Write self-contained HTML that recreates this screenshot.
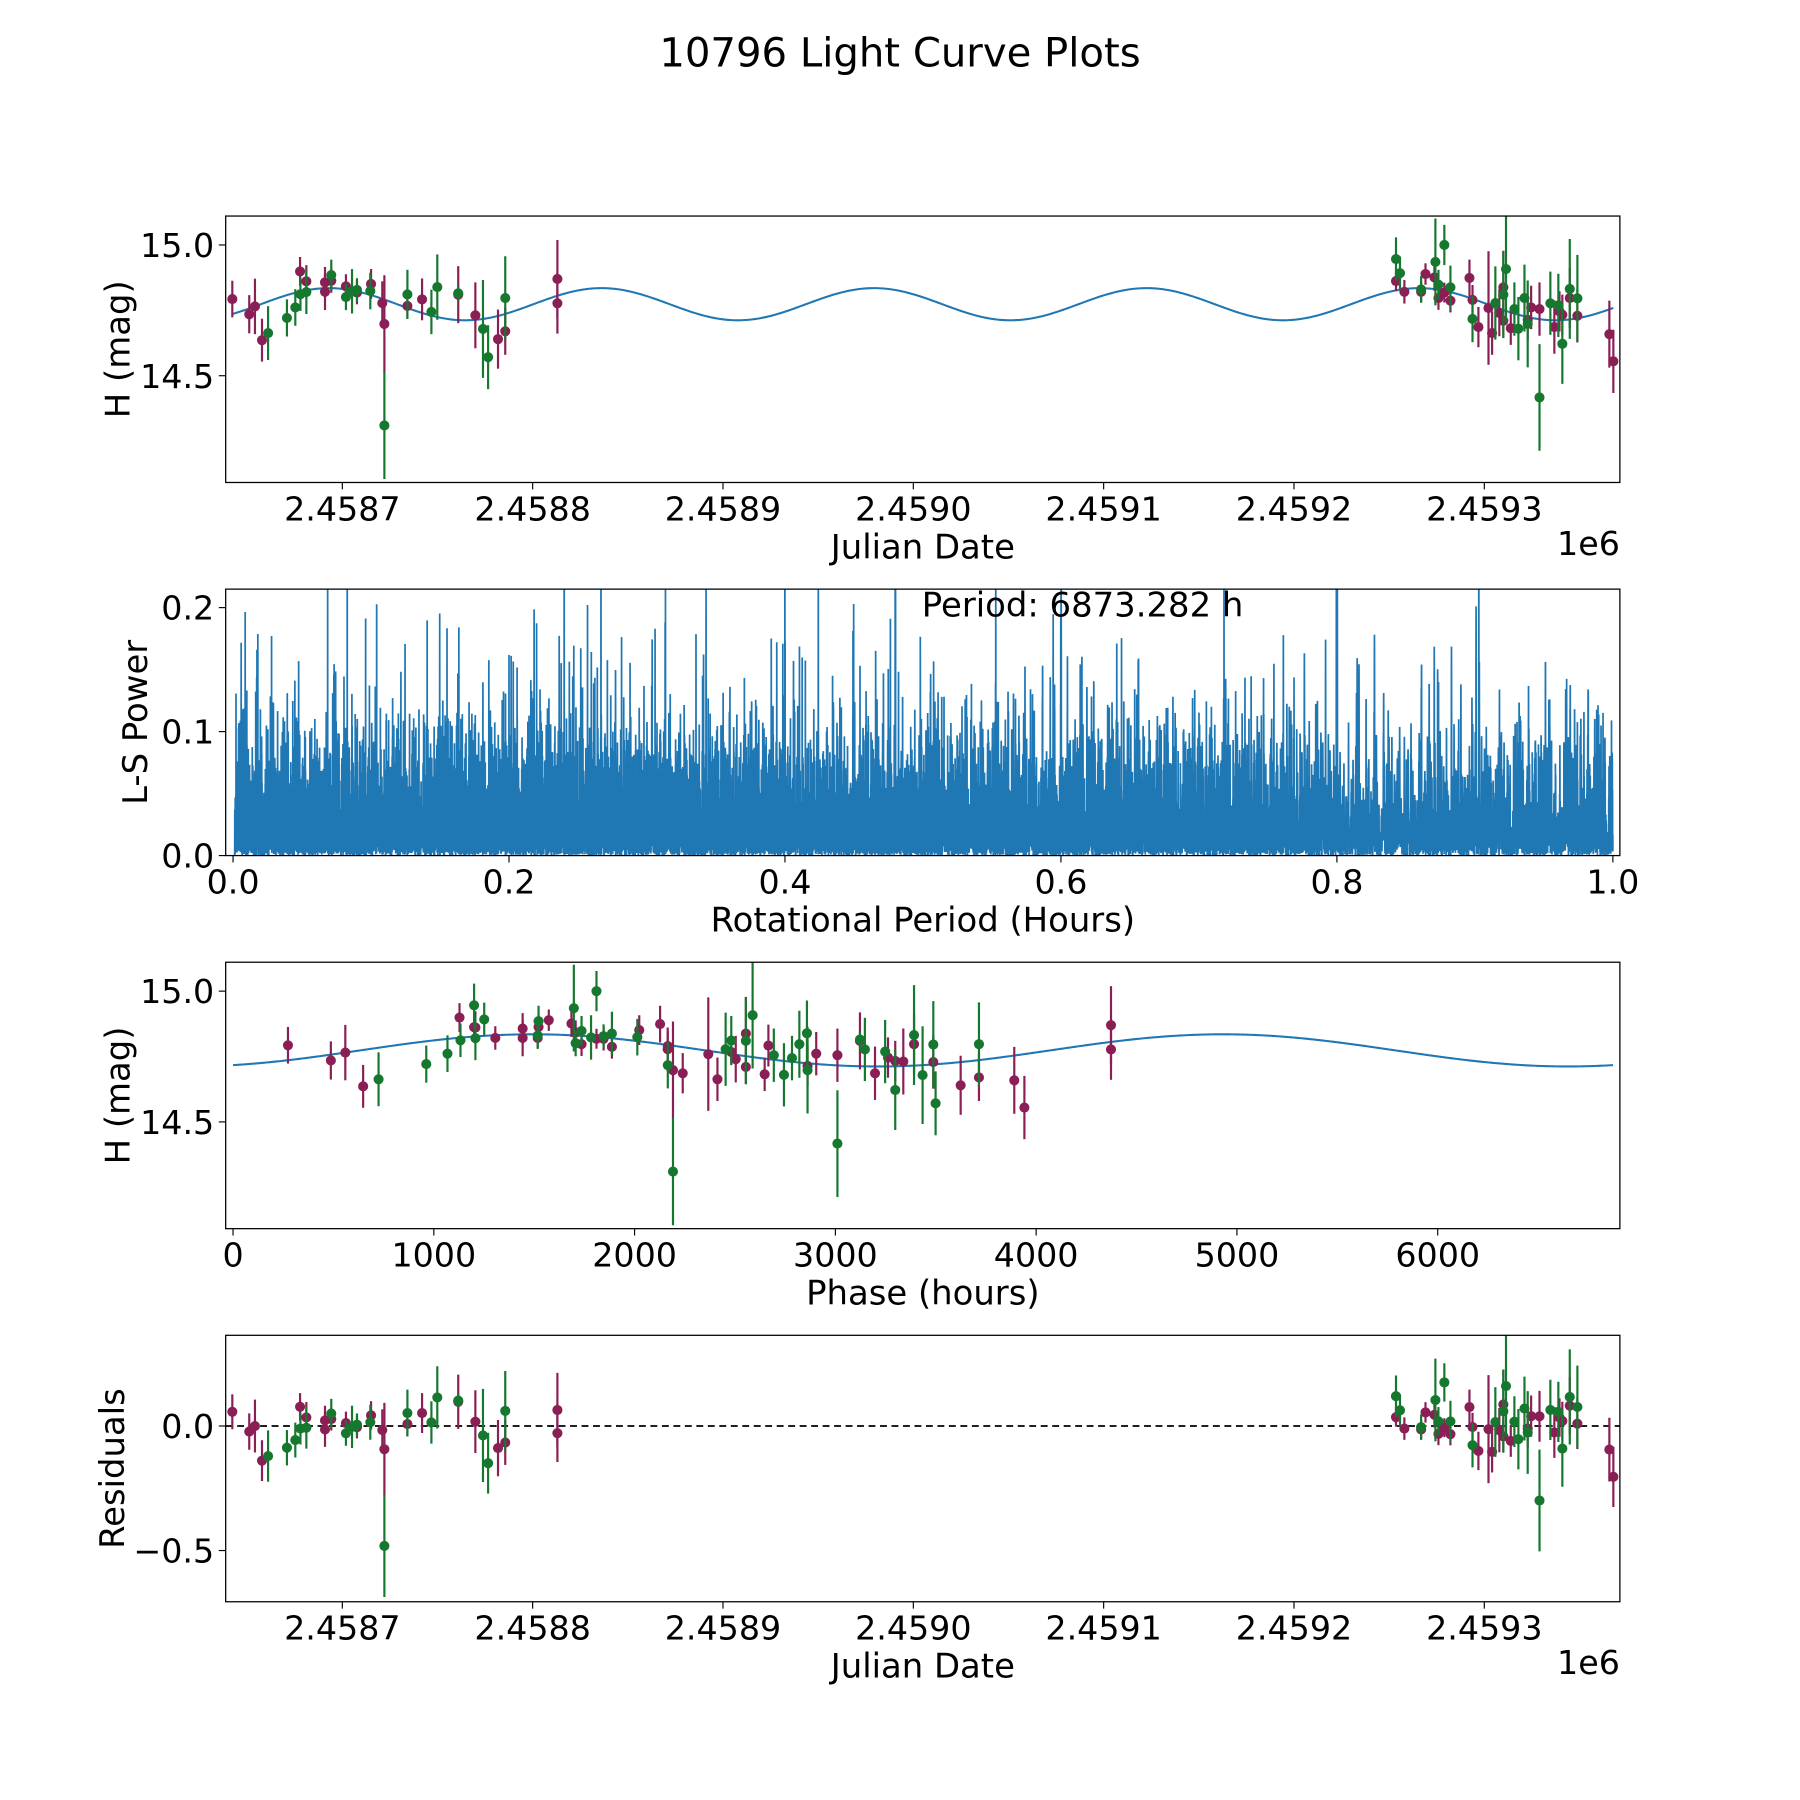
<!DOCTYPE html>
<html><head><meta charset="utf-8"><title>10796 Light Curve Plots</title>
<style>html,body{margin:0;padding:0;background:#fff}svg{display:block}text{font-family:"DejaVu Sans","Liberation Sans",sans-serif;fill:#000}</style>
</head><body>
<svg id="fig" xmlns="http://www.w3.org/2000/svg" width="1800" height="1800" viewBox="0 0 1568 1568">
<rect x="0" y="0" width="1568" height="1568" fill="#fff"/>
<text x="784" y="58" font-size="35" text-anchor="middle">10796 Light Curve Plots</text>
</svg>
<script>
// ---- data ----
const jd = [2458642.2,2458651.1,2458654.1,2458657.8,2458661.0,2458670.9,2458675.3,2458677.8,2458678.0,2458681.1,2458681.1,2458690.9,2458690.9,2458694.2,2458694.2,2458701.9,2458701.9,2458705.1,2458707.7,2458707.7,2458715.1,2458714.7,2458721.0,2458722.1,2458722.1,2458734.2,2458734.2,2458741.9,2458746.8,2458749.9,2458760.9,2458760.9,2458769.9,2458773.9,2458776.6,2458781.8,2458785.6,2458785.6,2458813.0,2458813.0,
2459253.6,2459253.6,2459255.7,2459258.0,2459266.8,2459266.8,2459269.1,2459273.8,2459274.3,2459275.9,2459275.9,2459279.0,2459279.0,2459282.2,2459282.2,2459292.2,2459293.8,2459293.8,2459296.9,2459302.2,2459304.1,2459305.8,2459307.9,2459310.0,2459310.0,2459311.4,2459310.0,2459313.9,2459315.8,2459317.9,2459321.1,2459322.8,2459322.8,2459324.6,2459329.0,2459329.0,2459334.7,2459336.8,2459338.9,2459339.5,2459341.0,2459341.0,2459344.9,2459344.9,2459348.9,2459348.9,2459365.7,2459367.8];
const mag = [14.793,14.735,14.765,14.636,14.663,14.721,14.761,14.899,14.812,14.861,14.820,14.821,14.857,14.863,14.885,14.842,14.801,14.823,14.818,14.828,14.851,14.824,14.778,14.698,14.310,14.811,14.767,14.792,14.744,14.839,14.810,14.815,14.731,14.679,14.571,14.640,14.670,14.797,14.870,14.777,
14.946,14.862,14.892,14.821,14.821,14.830,14.889,14.876,14.935,14.848,14.797,15.000,14.818,14.838,14.787,14.874,14.790,14.717,14.686,14.759,14.663,14.778,14.740,14.838,14.810,14.908,14.710,14.682,14.755,14.680,14.797,14.714,14.698,14.761,14.755,14.417,14.777,14.686,14.769,14.746,14.622,14.733,14.832,14.797,14.796,14.729,14.659,14.555];
const magErr = [0.070,0.073,0.106,0.082,0.103,0.071,0.070,0.055,0.064,0.062,0.084,0.070,0.059,0.046,0.059,0.046,0.050,0.085,0.045,0.045,0.057,0.070,0.083,0.186,0.205,0.094,0.048,0.080,0.085,0.125,0.109,0.030,0.126,0.187,0.122,0.113,0.090,0.160,0.149,0.116,
0.083,0.038,0.064,0.045,0.038,0.051,0.041,0.051,0.166,0.057,0.045,0.077,0.038,0.083,0.045,0.070,0.057,0.089,0.077,0.217,0.083,0.140,0.089,0.140,0.166,0.204,0.064,0.064,0.102,0.121,0.128,0.077,0.166,0.083,0.102,0.204,0.121,0.102,0.121,0.077,0.153,0.077,0.191,0.115,0.166,0.102,0.128,0.121];
const band = ["M","M","M","M","G","G","G","M","G","M","G","M","M","M","G","M","G","G","M","G","M","G","M","M","G","G","M","M","G","G","M","G","M","G","G","M","M","G","M","M",
"G","M","G","M","M","G","M","M","G","G","M","G","M","G","M","M","M","G","M","M","M","G","M","M","G","G","M","M","G","G","G","M","G","M","M","G","G","M","G","M","G","M","G","M","G","M","M","M"];
const xTickJD = [2458700,2458800,2458900,2459000,2459100,2459200,2459300];
const xTickJDLabels = ["2.4587","2.4588","2.4589","2.4590","2.4591","2.4592","2.4593"];
const yTickMag = [15.0,14.5];
const yTickMagLabels = ["15.0","14.5"];
const xTickPeriod = [0,0.2,0.4,0.6,0.8,1.0];
const xTickPeriodLabels = ["0.0","0.2","0.4","0.6","0.8","1.0"];
const yTickPower = [0,0.1,0.2];
const yTickPowerLabels = ["0.0","0.1","0.2"];
const xTickPhase = [0,1000,2000,3000,4000,5000,6000];
const xTickPhaseLabels = ["0","1000","2000","3000","4000","5000","6000"];
const yTickRes = [0,-0.5];
const yTickResLabels = ["0.0","\u22120.5"];
const bestPeriodHours = 6873.282;
const modelMean = [14.7735];
const modelAmp = [0.0615];
const modelPeakJD = [2458693.0];
const phaseZeroJD = [2458630.8];

// ---- layout ----
const NS="http://www.w3.org/2000/svg";
const svg=document.getElementById('fig');
const L=196.6,R=1411.1,H=232.1;
const tops=[188.2,513.2,838.2,1163.2];
const COL={M:"#8a1f55",G:"#16782f"};
const BLUE="#1f77b4";
const TF=29, LF=29.5;
function el(tag,attrs,parent){const e=document.createElementNS(NS,tag);for(const k in attrs)e.setAttribute(k,attrs[k]);(parent||svg).appendChild(e);return e;}

const xJD=t=>298.2+(t-2458700)*1.658;
const yMag1=m=>tops[0]+25.2+(15.0-m)*227.8;
const yMag3=m=>tops[2]+25.2+(15.0-m)*227.8;
const xPer=p=>203+p*1202;
const yPow=v=>tops[1]+H-v*1080;
const xPh=p=>203+p*0.1749;
const yRes=r=>tops[3]+79+(0-r)*217;

const halfP=bestPeriodHours/24/2;
function model(t){return modelMean[0]+modelAmp[0]*Math.cos(2*Math.PI*(t-modelPeakJD[0])/halfP);}

const defs=el('defs',{});
tops.forEach((t,i)=>{const c=el('clipPath',{id:'clip'+i},defs);el('rect',{x:L,y:t,width:R-L,height:H},c);});

function frame(i,name){
  const g=el('g',{});
  
  
  return g;
}
function drawAxes(g,i,xt,xl,xf,yt,yl,yf,xname){
  const t=tops[i],b=t+H;
  xt.forEach((v,k)=>{const x=xf(v);el('line',{x1:x,y1:b,x2:x,y2:b+6,stroke:'#000','stroke-width':1},g);
    const tx=el('text',{x:x,y:b+33,'font-size':TF,'text-anchor':'middle'},g);tx.textContent=xl[k];
    
    });
  yt.forEach((v,k)=>{const y=yf(v);el('line',{x1:L-6,y1:y,x2:L,y2:y,stroke:'#000','stroke-width':1},g);
    const tx=el('text',{x:L-10,y:y+10.5,'font-size':TF,'text-anchor':'end'},g);tx.textContent=yl[k];
    
    });
}
function spine(g,i){el('rect',{x:L,y:tops[i],width:R-L,height:H,fill:'none',stroke:'#000','stroke-width':1.1},g);}
function label(g,txt,x,y,rot,name){const a={x:x,y:y,'font-size':LF,'text-anchor':'middle'};if(rot)a.transform='rotate(-90 '+x+' '+y+')';const t=el('text',a,g);t.textContent=txt;
  
  }
function errPoints(g,i,xs,ys,es,yf,name){
  const cg=el('g',{'clip-path':'url(#clip'+i+')'},g);
  ["M","G"].forEach(bd=>{for(let k=0;k<xs.length;k++){if(band[k]!==bd)continue;
    const x=xs[k];const y1=yf(ys[k]-es[k]),y2=yf(ys[k]+es[k]);
    el('line',{x1:x,y1:y1,x2:x,y2:y2,stroke:COL[bd],'stroke-width':1.9},cg);
    const c=el('circle',{cx:x,cy:yf(ys[k]),r:4.4,fill:COL[bd]},cg);
    
    }});
}
function curvePath(xs,ys){return xs.map((x,k)=>(k?'L':'M')+x.toFixed(2)+' '+ys[k].toFixed(2)).join(' ');}

const tmin=Math.min(...jd),tmax=Math.max(...jd);
// ---- panel 1 ----
{const g=frame(0,'light-curve-panel');
 const ts=[],ms=[];for(let k=0;k<=600;k++){const t=tmin+(tmax-tmin)*k/600;ts.push(xJD(t));ms.push(yMag1(model(t)));}
 const p=el('path',{d:curvePath(ts,ms),fill:'none',stroke:BLUE,'stroke-width':1.8,'clip-path':'url(#clip0)'},g);
 
 
 errPoints(g,0,jd.map(xJD),mag,magErr,yMag1,'magnitude');
 drawAxes(g,0,xTickJD,xTickJDLabels,xJD,yTickMag,yTickMagLabels,yMag1,'x');
 spine(g,0);
 label(g,'Julian Date',803.9,tops[0]+H+66,false,'x-axis-title');
 const o=el('text',{x:R,y:tops[0]+H+63,'font-size':TF,'text-anchor':'end'},g);o.textContent='1e6';
 
 
 label(g,'H (mag)',113,tops[0]+H/2,true,'y-axis-title');
}
// ---- panel 2: Lomb-Scargle ----
{const g=frame(1,'periodogram-panel');
 const t0=tmin;const th=jd.map(t=>(t-t0)*24);const w=magErr.map(e=>1/(e*e));
 let W=0,Sy=0,Syy=0;for(let k=0;k<th.length;k++){W+=w[k];Sy+=w[k]*mag[k];Syy+=w[k]*mag[k]*mag[k];}
 const chiRef=Syy-Sy*Sy/W;
 const N=20000,pmin=0.0012,pmax=1.0;const xs=[],ys=[];
 const det=m=>m[0][0]*(m[1][1]*m[2][2]-m[1][2]*m[2][1])-m[0][1]*(m[1][0]*m[2][2]-m[1][2]*m[2][0])+m[0][2]*(m[1][0]*m[2][1]-m[1][1]*m[2][0]);
 for(let i=0;i<N;i++){const per=pmin+(pmax-pmin)*i/(N-1);const om=2*Math.PI/per;
  let Scc=0,Sss=0,Scs=0,Sc=0,Ss=0,Syc=0,Sys=0;
  for(let k=0;k<th.length;k++){const ph=om*th[k];const c=Math.cos(ph),s=Math.sin(ph),ww=w[k];
   Scc+=ww*c*c;Sss+=ww*s*s;Scs+=ww*c*s;Sc+=ww*c;Ss+=ww*s;Syc+=ww*mag[k]*c;Sys+=ww*mag[k]*s;}
  const A=[[Scc,Scs,Sc],[Scs,Sss,Ss],[Sc,Ss,W]],b=[Syc,Sys,Sy];
  const D=det(A);let pw=0;
  if(Math.abs(D)>1e-12){let pb=0;for(let c=0;c<3;c++){const M=A.map((r,ri)=>r.map((v,ci)=>ci===c?b[ri]:v));pb+=det(M)/D*b[c];}
   pw=(pb-Sy*Sy/W)/chiRef;}
  pw=Math.max(0,Math.min(pw,0.3));
  xs.push(xPer(per));ys.push(yPow(pw));}
 const p=el('path',{d:curvePath(xs,ys),fill:'none',stroke:BLUE,'stroke-width':1.5,'clip-path':'url(#clip1)'},g);
 
 
 drawAxes(g,1,xTickPeriod,xTickPeriodLabels,xPer,yTickPower,yTickPowerLabels,yPow,'period');
 spine(g,1);
 const pt=el('text',{x:803,y:537,'font-size':LF,'text-anchor':'start'},g);pt.textContent='Period: '+bestPeriodHours.toFixed(3)+' h';
 
 
 label(g,'Rotational Period (Hours)',803.9,tops[1]+H+66,false,'x-axis-title');
 label(g,'L-S Power',128,tops[1]+H/2,true,'y-axis-title');
}
// ---- panel 3: phase ----
{const g=frame(2,'phase-panel');
 const ps=[],ms=[];for(let k=0;k<=600;k++){const p=bestPeriodHours*k/600;ps.push(xPh(p));ms.push(yMag3(model(phaseZeroJD[0]+p/24)));}
 const c=el('path',{d:curvePath(ps,ms),fill:'none',stroke:BLUE,'stroke-width':1.8,'clip-path':'url(#clip2)'},g);
 
 
 const phase=jd.map(t=>{let p=((t-phaseZeroJD[0])*24)%bestPeriodHours;if(p<0)p+=bestPeriodHours;return p;});
 errPoints(g,2,phase.map(xPh),mag,magErr,yMag3,'phased');
 drawAxes(g,2,xTickPhase,xTickPhaseLabels,xPh,yTickMag,yTickMagLabels,yMag3,'phase');
 spine(g,2);
 label(g,'Phase (hours)',803.9,tops[2]+H+66,false,'x-axis-title');
 label(g,'H (mag)',113,tops[2]+H/2,true,'y-axis-title');
}
// ---- panel 4: residuals ----
{const g=frame(3,'residuals-panel');
 const zl=el('line',{x1:L,y1:yRes(0),x2:R,y2:yRes(0),stroke:'#000','stroke-width':1.5,'stroke-dasharray':'6 4'},g);
 
 
 const res=jd.map((t,k)=>mag[k]-model(t));
 errPoints(g,3,jd.map(xJD),res,magErr,yRes,'residual');
 drawAxes(g,3,xTickJD,xTickJDLabels,xJD,yTickRes,yTickResLabels,yRes,'x');
 spine(g,3);
 label(g,'Julian Date',803.9,tops[3]+H+66,false,'x-axis-title');
 const o=el('text',{x:R,y:tops[3]+H+63,'font-size':TF,'text-anchor':'end'},g);o.textContent='1e6';
 
 
 label(g,'Residuals',108,tops[3]+H/2,true,'y-axis-title');
}
</script>
</body></html>
